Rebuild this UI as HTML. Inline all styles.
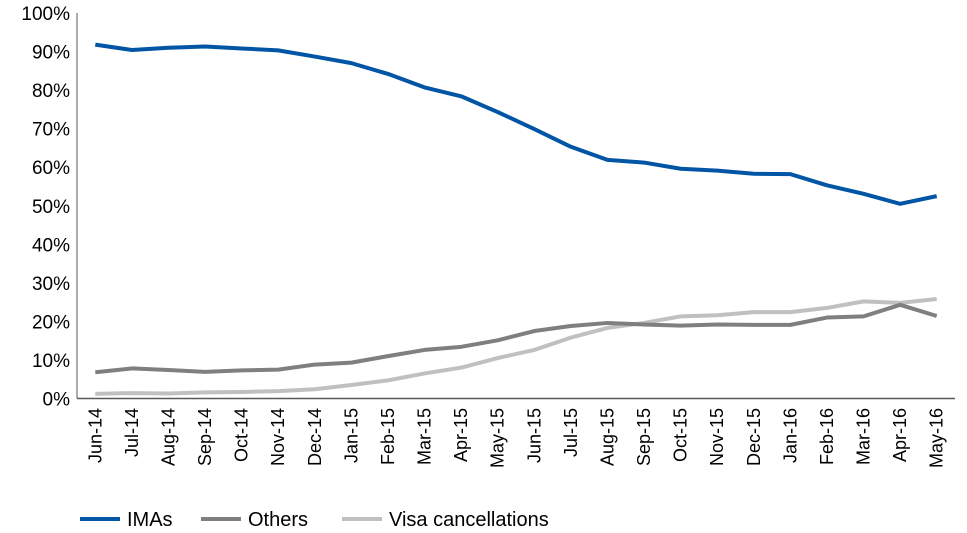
<!DOCTYPE html>
<html><head><meta charset="utf-8"><style>
body{margin:0;background:#fff;}
svg{display:block;font-family:"Liberation Sans",Arial,sans-serif;}
</style></head><body>
<svg id="chart" width="967" height="533"></svg>
<script>
const categories=["Jun-14","Jul-14","Aug-14","Sep-14","Oct-14","Nov-14","Dec-14","Jan-15","Feb-15","Mar-15","Apr-15","May-15","Jun-15","Jul-15","Aug-15","Sep-15","Oct-15","Nov-15","Dec-15","Jan-16","Feb-16","Mar-16","Apr-16","May-16"];
const imas=[91.8,90.4,91.0,91.3,90.8,90.3,88.7,87.0,84.2,80.7,78.4,74.3,69.9,65.3,61.9,61.2,59.6,59.1,58.3,58.2,55.3,53.1,50.5,52.5];
const others=[6.8,7.8,7.4,6.9,7.3,7.5,8.8,9.3,11.0,12.6,13.4,15.1,17.5,18.8,19.6,19.2,18.9,19.2,19.1,19.1,21.0,21.3,24.3,21.4];
const visa=[1.2,1.4,1.3,1.6,1.7,1.9,2.4,3.5,4.7,6.5,8.0,10.5,12.6,15.8,18.3,19.6,21.3,21.6,22.4,22.4,23.5,25.2,24.8,25.8];
const yTicks=[0,10,20,30,40,50,60,70,80,90,100];
const NS="http://www.w3.org/2000/svg";
const svg=document.getElementById('chart');
const L=77,R=955,T=13,B=398.5;
const band=(R-L)/categories.length;
const x=i=>L+band*(i+0.5);
const y=v=>B-(v/100)*(B-T);
function mk(tag,attrs){const e=document.createElementNS(NS,tag);for(const k in attrs)e.setAttribute(k,attrs[k]);svg.appendChild(e);return e;}
let e=mk('line',{x1:L,y1:T,x2:L,y2:B,stroke:'#595959','stroke-width':1});


e=mk('line',{x1:L,y1:B,x2:R,y2:B,stroke:'#595959','stroke-width':1.5});


yTicks.forEach(t=>{
  const tx=mk('text',{x:70,y:y(t)+7,'text-anchor':'end','font-size':19,fill:'#000'});
  tx.textContent=t+'%';
  
  
});
categories.forEach((c,i)=>{
  const tx=mk('text',{x:0,y:0,'text-anchor':'end','font-size':18,fill:'#000',transform:`translate(${x(i)+6},408) rotate(-90)`});
  tx.textContent=c;
  
  
});
const series=[[imas,'#0055a5','imas-line'],[others,'#7f7f7f','others-line'],[visa,'#c0c0c0','visa-cancellations-line']];
series.slice().reverse().forEach(([d,col,name])=>{
  const p=mk('polyline',{points:d.map((v,i)=>x(i)+','+y(v)).join(' '),fill:'none',stroke:col,'stroke-width':4,'stroke-linejoin':'round'});
  
  
});
const legend=[['IMAs','#0055a5',80],['Others','#7f7f7f',201],['Visa cancellations','#c0c0c0',342]];
legend.forEach(([lab,col,lx])=>{
  const ln=mk('line',{x1:lx,y1:519,x2:lx+40,y2:519,stroke:col,'stroke-width':4});
  
  
  const tx=mk('text',{x:lx+47,y:526,'font-size':20,fill:'#000'});
  tx.textContent=lab;
  
  
});
</script>
</body></html>
